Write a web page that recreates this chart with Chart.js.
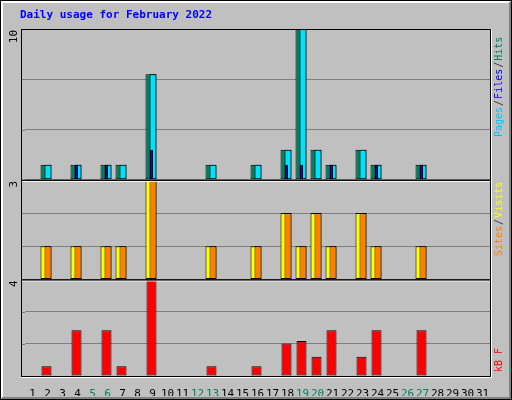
<!DOCTYPE html>
<html>
<head>
<meta charset="utf-8">
<script src="https://cdn.jsdelivr.net/npm/chart.js@4"></script>
<style>
  body { margin:0; background:#fff; }
  #wrap { width:512px; height:400px; }
</style>
</head>
<body>
<div id="wrap"><canvas id="usage" width="512" height="400"></canvas></div>
<script>
const days = Array.from({length: 31}, (_, i) => String(i + 1))
const weekend = ["5","6","12","13","19","20","26","27"]

// values, 0 = no traffic
const hits   = [0,1,0,1,0,1,1,0,7,0,0,0,1,0,0,1,0,2,10,2,1,0,2,1,0,0,1,0,0,0,0]
const files  = [0,1,0,1,0,1,1,0,7,0,0,0,1,0,0,1,0,2,10,2,1,0,2,1,0,0,1,0,0,0,0]
const pages  = [0,0,0,1,0,1,0,0,2,0,0,0,0,0,0,0,0,1,1,0,1,0,0,1,0,0,1,0,0,0,0]
const sites  = [0,1,0,1,0,1,1,0,3,0,0,0,1,0,0,1,0,2,1,2,1,0,2,1,0,0,1,0,0,0,0]
const visits = [0,1,0,1,0,1,1,0,3,0,0,0,1,0,0,1,0,2,1,2,1,0,2,1,0,0,1,0,0,0,0]
const kbytes = [0,0.4,0,1.9,0,1.9,0.4,0,4,0,0,0,0.4,0,0,0.4,0,1.35,1.45,0.8,1.9,0,0.8,1.9,0,0,1.9,0,0,0,0]
const panelMax = { yHits: 10, yVisits: 3, yKb: 4 }

const mono = "'DejaVu Sans Mono', monospace"
const frameLeft = 21

function bar(label, data, axis, color, width, dx, order) {
    return {
        label: label, data: data, yAxisID: axis,
        backgroundColor: color, borderColor: "#000", borderWidth: 1,
        grouped: false, barW: width, dx: dx, order: order,
        borderSkipped: false,
    }
}

function thirds(scale) {
    const m = panelMax[scale.id]
    scale.ticks = [0, m / 3, 2 * m / 3, m].map(v => ({ value: v }))
}

function yScale(id, weight) {
    return {
        type: "linear", stack: "panels", stackWeight: weight,
        min: 0, max: panelMax[id],
        afterBuildTicks: thirds,
        afterFit: (s) => { s.width = 0 },
        ticks: { display: false },
        border: { display: false },
        grid: { color: "#808080", lineWidth: 1, drawTicks: false },
    }
}

const shiftBars = {
    id: "shiftBars",
    afterDatasetsUpdate(chart) {
        chart.data.datasets.forEach((ds, i) => {
            chart.getDatasetMeta(i).data.forEach(el => {
                el.x += ds.dx
                el.width = ds.barW
            })
        })
    }
}

const frame = {
    id: "frame",
    beforeDraw(chart) {
        const c = chart.ctx
        c.save()
        c.fillStyle = "#c0c0c0"
        c.fillRect(0, 0, 512, 400)
        c.strokeStyle = "#000"; c.lineWidth = 1
        c.strokeRect(0.5, 0.5, 511, 399)
        c.strokeStyle = "#fff"; c.lineWidth = 2
        c.beginPath(); c.moveTo(2, 398); c.lineTo(2, 2); c.lineTo(510, 2); c.stroke()
        c.strokeStyle = "#808080"
        c.beginPath(); c.moveTo(510, 2); c.lineTo(510, 398); c.lineTo(2, 398); c.stroke()
        c.fillStyle = "#0000ff"
        c.font = "bold 11px " + mono
        c.textBaseline = "middle"
        c.fillText("Daily usage for February 2022", 20, 15)
        c.restore()
    },
    beforeDatasetsDraw(chart) {
        // extend grid lines to the frame's left edge
        const c = chart.ctx, a = chart.chartArea
        c.save()
        c.strokeStyle = "#808080"; c.lineWidth = 1
        ;["yHits", "yVisits", "yKb"].forEach(id => {
            const s = chart.scales[id]
            s.ticks.forEach(t => {
                const y = Math.round(s.getPixelForValue(t.value)) + 0.5
                c.beginPath(); c.moveTo(frameLeft, y); c.lineTo(a.left, y); c.stroke()
            })
        })
        c.restore()
    },
    afterDraw(chart) {
        const c = chart.ctx, a = chart.chartArea
        c.save()
        c.lineWidth = 1
        ;["yHits", "yVisits", "yKb"].forEach(id => {
            const s = chart.scales[id]
            c.strokeStyle = "#000"
            c.strokeRect(frameLeft + 0.5, s.top + 0.5, a.right - frameLeft, s.bottom - s.top)
            c.strokeStyle = "#fff"
            c.beginPath(); c.moveTo(frameLeft, s.bottom + 1.5); c.lineTo(a.right + 1, s.bottom + 1.5)
            c.moveTo(a.right + 1.5, s.top); c.lineTo(a.right + 1.5, s.bottom + 2); c.stroke()
            c.save()
            c.translate(14, s.top + 1)
            c.rotate(-Math.PI / 2)
            c.fillStyle = "#000"
            c.font = "11px " + mono
            c.textAlign = "right"; c.textBaseline = "middle"
            c.fillText(String(panelMax[id]), 0, 0)
            c.restore()
        })
        const legend = (parts, x, y) => {
            c.save()
            c.translate(x, y)
            c.rotate(-Math.PI / 2)
            c.font = "10px " + mono
            c.textBaseline = "middle"
            let off = 0
            parts.forEach(([t, col]) => {
                c.fillStyle = col
                c.fillText(t, off, 0)
                off += c.measureText(t).width + 1
            })
            c.restore()
        }
        legend([["Pages", "#00c0ff"], ["/", "#404040"], ["Files", "#0000ff"], ["/", "#404040"], ["Hits", "#00805c"]], 499, 137)
        legend([["Sites", "#ff8000"], ["/", "#404040"], ["Visits", "#ffff00"]], 499, 256)
        legend([["kB F", "#ff0000"]], 499, 372)
        c.restore()
    }
}

new Chart(document.getElementById("usage"), {
    type: "bar",
    data: {
        labels: days,
        datasets: [
            bar("Hits", hits, "yHits", "#00805c", 11, -1.5, 3),
            bar("Files", files, "yHits", "#00e0ff", 7, 0.5, 2),
            bar("Pages", pages, "yHits", "#0000ff", 3, -1, 1),
            bar("Sites", sites, "yVisits", "#ffff00", 11, -1.5, 2),
            bar("Visits", visits, "yVisits", "#ff8000", 7, 0.5, 1),
            bar("KBytes", kbytes, "yKb", "#ff0000", 10, -1, 1),
        ]
    },
    options: {
        responsive: false,
        animation: false,
        devicePixelRatio: 1,
        layout: { padding: { left: 25, right: 22, top: 29, bottom: 4 } },
        plugins: { legend: { display: false }, tooltip: { enabled: false } },
        scales: {
            x: {
                grid: { display: false },
                border: { display: false },
                afterFit: (s) => { s.height = 20 },
                ticks: {
                    maxRotation: 0, autoSkip: false, padding: 4,
                    font: { family: mono, size: 11 },
                    color: (ctx) => weekend.includes(days[ctx.index]) ? "#00805c" : "#000",
                },
            },
            yKb: yScale("yKb", 96),
            yVisits: yScale("yVisits", 99),
            yHits: yScale("yHits", 150),
        }
    },
    plugins: [frame, shiftBars],
})
</script>
</body>
</html>
